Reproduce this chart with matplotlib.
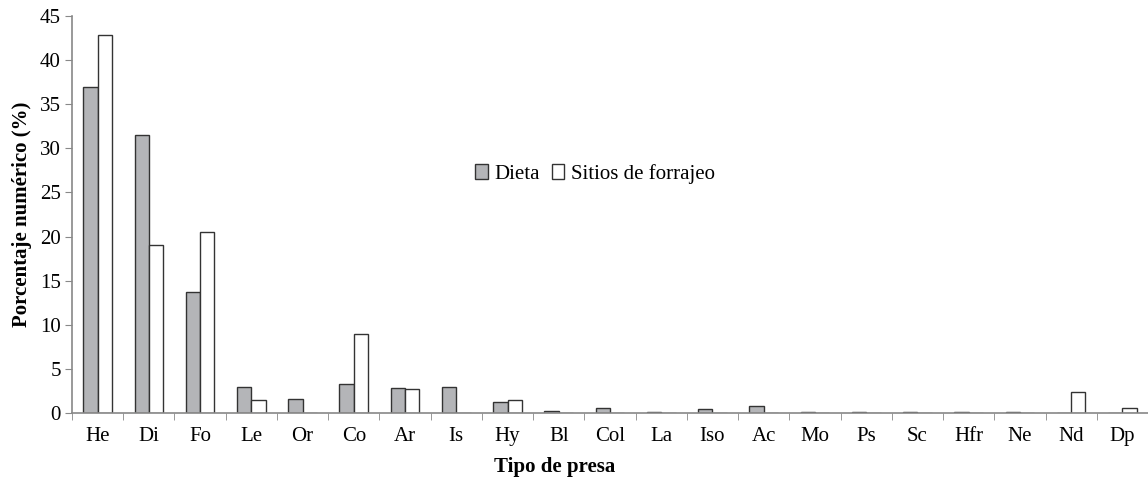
import matplotlib
matplotlib.use("Agg")
import matplotlib.pyplot as plt
import numpy as np

categories = ["He", "Di", "Fo", "Le", "Or", "Co", "Ar", "Is", "Hy", "Bl", "Col",
              "La", "Iso", "Ac", "Mo", "Ps", "Sc", "Hfr", "Ne", "Nd", "Dp"]
dieta = [37.0, 31.5, 13.7, 3.0, 1.6, 3.3, 2.8, 2.9, 1.3, 0.25, 0.55,
         0.15, 0.4, 0.8, 0.15, 0.1, 0.1, 0.1, 0.15, 0.0, 0.0]
sitios = [42.8, 19.0, 20.5, 1.5, 0.0, 8.9, 2.7, 0.0, 1.5, 0.0, 0.0,
          0.0, 0.0, 0.0, 0.0, 0.0, 0.0, 0.0, 0.0, 2.4, 0.6]
yticks = [0, 5, 10, 15, 20, 25, 30, 35, 40, 45]

plt.rcParams['font.family'] = ['Liberation Serif', 'DejaVu Serif']

fig = plt.figure(figsize=(11.48, 4.8), dpi=100)
ax = fig.add_axes([72/1148, 1-413/480, (1148-72)/1148, (413-16)/480])

x = np.arange(len(categories))
w = 0.28
ax.bar(x - w/2, dieta, width=w, color='#b4b5b8', edgecolor='#333333', linewidth=1.0, label='Dieta')
ax.bar(x + w/2, sitios, width=w, color='white', edgecolor='#333333', linewidth=1.0, label='Sitios de forrajeo')

ax.set_xlim(-0.5, len(categories) - 0.5)
ax.set_ylim(0, 45)
ax.set_yticks(yticks)
ax.tick_params(axis='y', labelsize=15, length=5, color='#888888', direction='out', pad=3)
ax.set_xticks(x)
ax.set_xticklabels(categories, fontsize=15)
ax.set_xticks(np.arange(len(categories) + 1) - 0.5, minor=True)
ax.tick_params(axis='x', which='major', length=0, pad=10)
ax.tick_params(axis='x', which='minor', length=5, color='#888888', direction='out')

for s in ['top', 'right']:
    ax.spines[s].set_visible(False)
for s in ['left', 'bottom']:
    ax.spines[s].set_color('#888888')
    ax.spines[s].set_linewidth(1.2)

ax.set_ylabel('Porcentaje numérico (%)', fontsize=15, fontweight='bold', labelpad=6)
ax.set_xlabel('Tipo de presa', fontsize=15, fontweight='bold')
ax.xaxis.set_label_coords(0.449, -0.11)

leg = ax.legend(loc='center', bbox_to_anchor=(0.486, 0.603), ncol=2, frameon=False,
                fontsize=15, handlelength=0.6, handleheight=0.8, handletextpad=0.3,
                columnspacing=0.6)

fig.savefig('out.png', dpi=100)
